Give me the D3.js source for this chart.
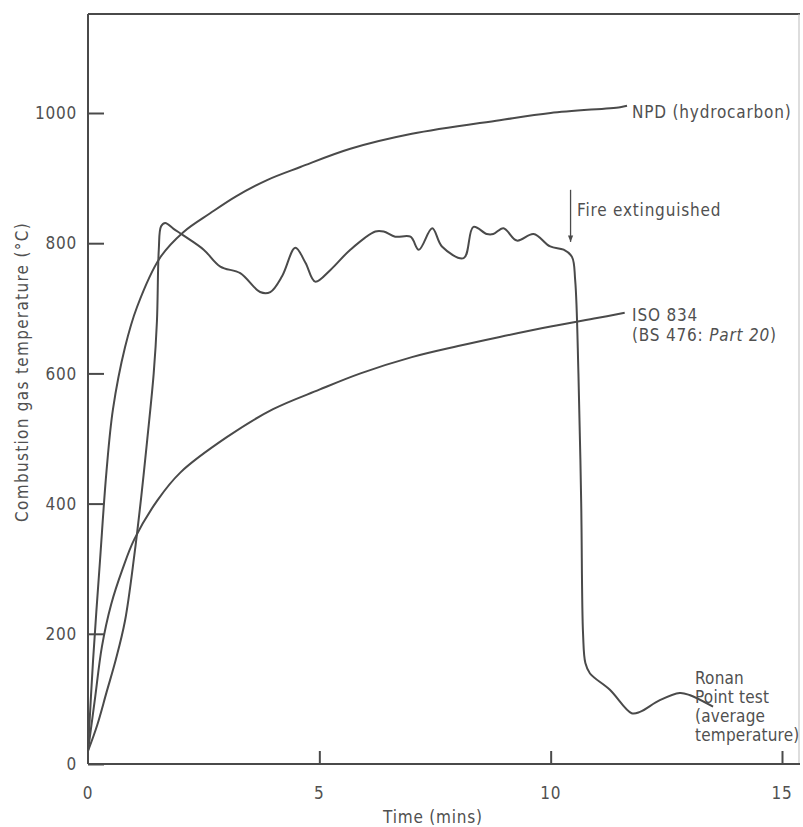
<!DOCTYPE html>
<html>
<head>
<meta charset="utf-8">
<script src="https://cdn.jsdelivr.net/npm/d3@7"></script>
<style>
    body { margin: 0; background: #fff; }
    svg text {
        font-family: "DejaVu Sans Condensed", "Liberation Sans Narrow", sans-serif;
        fill: #505050;
        letter-spacing: 0.8px;
    }
</style>
</head>
<body>
<svg id="chart"></svg>
<script>
// Time (mins) / temperature (°C)
const npdTime = [0, 0.11, 0.26, 0.4, 0.54, 0.8, 1.06, 1.56, 2.06, 2.64, 3.2, 3.87, 4.59, 5.67, 7, 8.9, 10, 11.5, 11.65];
const npdTemp = [20, 160, 313, 450, 545, 640, 702, 778, 817, 846, 872, 897, 917, 945, 968, 989, 1000, 1009, 1011];

const isoTime = [0, 0.15, 0.3, 0.5, 0.75, 1, 1.5, 2, 3, 4, 5, 5.89, 7, 8, 8.9, 10, 11, 11.6];
const isoTemp = [20, 100, 180, 245, 300, 345, 405, 448, 502, 545, 575, 600, 625, 642, 656, 672, 685, 693];

const ronanTime = [0, 0.2, 0.4, 0.6, 0.8, 1.0, 1.15, 1.28, 1.42, 1.49, 1.53, 1.58, 1.67, 1.85, 2.06, 2.5, 2.86, 3.29, 3.72, 3.94, 4.2, 4.48, 4.7, 4.91, 5.24, 5.67, 6.21, 6.39, 6.64, 6.97, 7.15, 7.44, 7.65, 8.12, 8.33, 8.62, 8.76, 8.98, 9.27, 9.63, 9.99, 10.28, 10.46, 10.53, 10.6, 10.66, 10.7, 10.75, 10.85, 11.28, 11.75, 11.93, 12.36, 12.79, 13.0, 13.51];
const ronanTemp = [20, 60, 110, 160, 220, 320, 410, 498, 600, 680, 790, 826, 831, 822, 812, 790, 764, 754, 725, 725, 750, 793, 770, 741, 759, 790, 818, 818, 810, 810, 790, 823, 795, 777, 825, 814, 814, 823, 804, 814, 795, 790, 779, 743, 600, 400, 200, 155, 139, 114, 78, 80, 98, 109, 106, 88];

const xTicks = [0, 5, 10, 15];
const yTicks = [0, 200, 400, 600, 800, 1000];

// Annotation text, anchored in data units
const npdLabel = { t: 11.76, v: 1001, lines: ["NPD (hydrocarbon)"] };
const isoLabel = { t: 11.76, v: 690, lines: ["ISO 834", "(BS 476: |Part 20|)"] };
const ronanLabel = { t: 13.12, v: 132, lines: ["Ronan", "Point test", "(average", "temperature)"] };
const fireLabel = { t: 10.57, v: 851, lines: ["Fire extinguished"] };
const fireArrow = { t: 10.43, from: 882, to: 802 };

const width = 803;
const height = 827;
const margin = { top: 14, right: 3, bottom: 63, left: 88 };

const svg = d3.select("#chart").attr("width", width).attr("height", height);

const x = d3.scaleLinear()
    .domain([0, 15])
    .range([margin.left, 782]);

const y = d3.scaleLinear()
    .domain([0, 1000])
    .range([764, 113]);

const ink = "#4a4a4a";

// Frame
svg.append("line")
    .attr("x1", margin.left).attr("x2", width - margin.right)
    .attr("y1", margin.top).attr("y2", margin.top)
    .attr("stroke", ink).attr("stroke-width", 2);
svg.append("line")
    .attr("x1", width - margin.right - 1).attr("x2", width - margin.right - 1)
    .attr("y1", margin.top).attr("y2", y(0))
    .attr("stroke", "#bbb").attr("stroke-width", 1);

// Y axis: ticks point inward
const yAxis = svg.append("g")
    .attr("transform", `translate(${margin.left},0)`)
    .call(d3.axisRight(y).tickValues(yTicks).tickSize(16).tickFormat(""));
yAxis.select(".domain").attr("d", `M0,${margin.top}V${y(0)}`);
yAxis.selectAll("line, path").attr("stroke", ink).attr("stroke-width", 2);

yAxis.selectAll(".ylab")
    .data(yTicks)
    .enter()
    .append("text")
    .attr("x", -11)
    .attr("y", d => y(d))
    .attr("dy", "0.36em")
    .attr("text-anchor", "end")
    .style("font-size", "17px")
    .text(d => d);

// X axis: ticks point up
const xAxis = svg.append("g")
    .attr("transform", `translate(0,${y(0)})`)
    .call(d3.axisTop(x).tickValues(xTicks.slice(1)).tickSize(13).tickFormat(""));
xAxis.select(".domain").attr("d", `M${margin.left},0H${width - margin.right}`);
xAxis.selectAll("line, path").attr("stroke", ink).attr("stroke-width", 2);

xAxis.selectAll(".xlab")
    .data(xTicks)
    .enter()
    .append("text")
    .attr("x", d => x(d))
    .attr("y", 29)
    .attr("dy", "0.36em")
    .attr("text-anchor", "middle")
    .style("font-size", "17px")
    .text(d => d);

// Axis titles
svg.append("text")
    .attr("transform", "translate(22,372) rotate(-90)")
    .attr("text-anchor", "middle")
    .attr("dy", "0.36em")
    .style("font-size", "17px")
    .style("letter-spacing", "1.3px")
    .text("Combustion gas temperature (°C)");

svg.append("text")
    .attr("x", 433)
    .attr("y", 817)
    .attr("dy", "0.36em")
    .attr("text-anchor", "middle")
    .style("font-size", "17px")
    .text("Time (mins)");

// Curves
const line = d3.line()
    .x(d => x(d[0]))
    .y(d => y(d[1]))
    .curve(d3.curveCatmullRom.alpha(0.5));

const series = [
    d3.zip(npdTime, npdTemp),
    d3.zip(isoTime, isoTemp),
    d3.zip(ronanTime, ronanTemp)
];

svg.selectAll(".curve")
    .data(series)
    .enter()
    .append("path")
    .attr("class", "curve")
    .attr("d", line)
    .attr("fill", "none")
    .attr("stroke", ink)
    .attr("stroke-width", 2)
    .attr("stroke-linejoin", "round");

// Fire extinguished arrow
svg.append("defs").append("marker")
    .attr("id", "head")
    .attr("viewBox", "0 0 10 10")
    .attr("refX", 10).attr("refY", 5)
    .attr("markerWidth", 5).attr("markerHeight", 5)
    .attr("orient", "auto")
    .append("path")
    .attr("d", "M0,1L10,5L0,9Z")
    .attr("fill", ink);

svg.append("line")
    .attr("x1", x(fireArrow.t)).attr("x2", x(fireArrow.t))
    .attr("y1", y(fireArrow.from)).attr("y2", y(fireArrow.to))
    .attr("stroke", ink).attr("stroke-width", 1.3)
    .attr("marker-end", "url(#head)");

// Labels; text between bars is set in italics
function addLabel(label, lineGap, spacing) {
    label.lines.forEach((txt, i) => {
        const t = svg.append("text")
            .attr("x", x(label.t))
            .attr("y", y(label.v) + i * lineGap)
            .attr("dy", "0.36em")
            .style("font-size", "17px")
            .style("letter-spacing", spacing + "px");
        txt.split("|").forEach((part, j) => {
            t.append("tspan")
                .style("font-style", j % 2 ? "italic" : "normal")
                .text(part);
        });
    });
}

addLabel(npdLabel, 20, 0.8);
addLabel(isoLabel, 20, 0.8);
addLabel(fireLabel, 20, 0.8);
addLabel(ronanLabel, 19, 0.2);
</script>
</body>
</html>
